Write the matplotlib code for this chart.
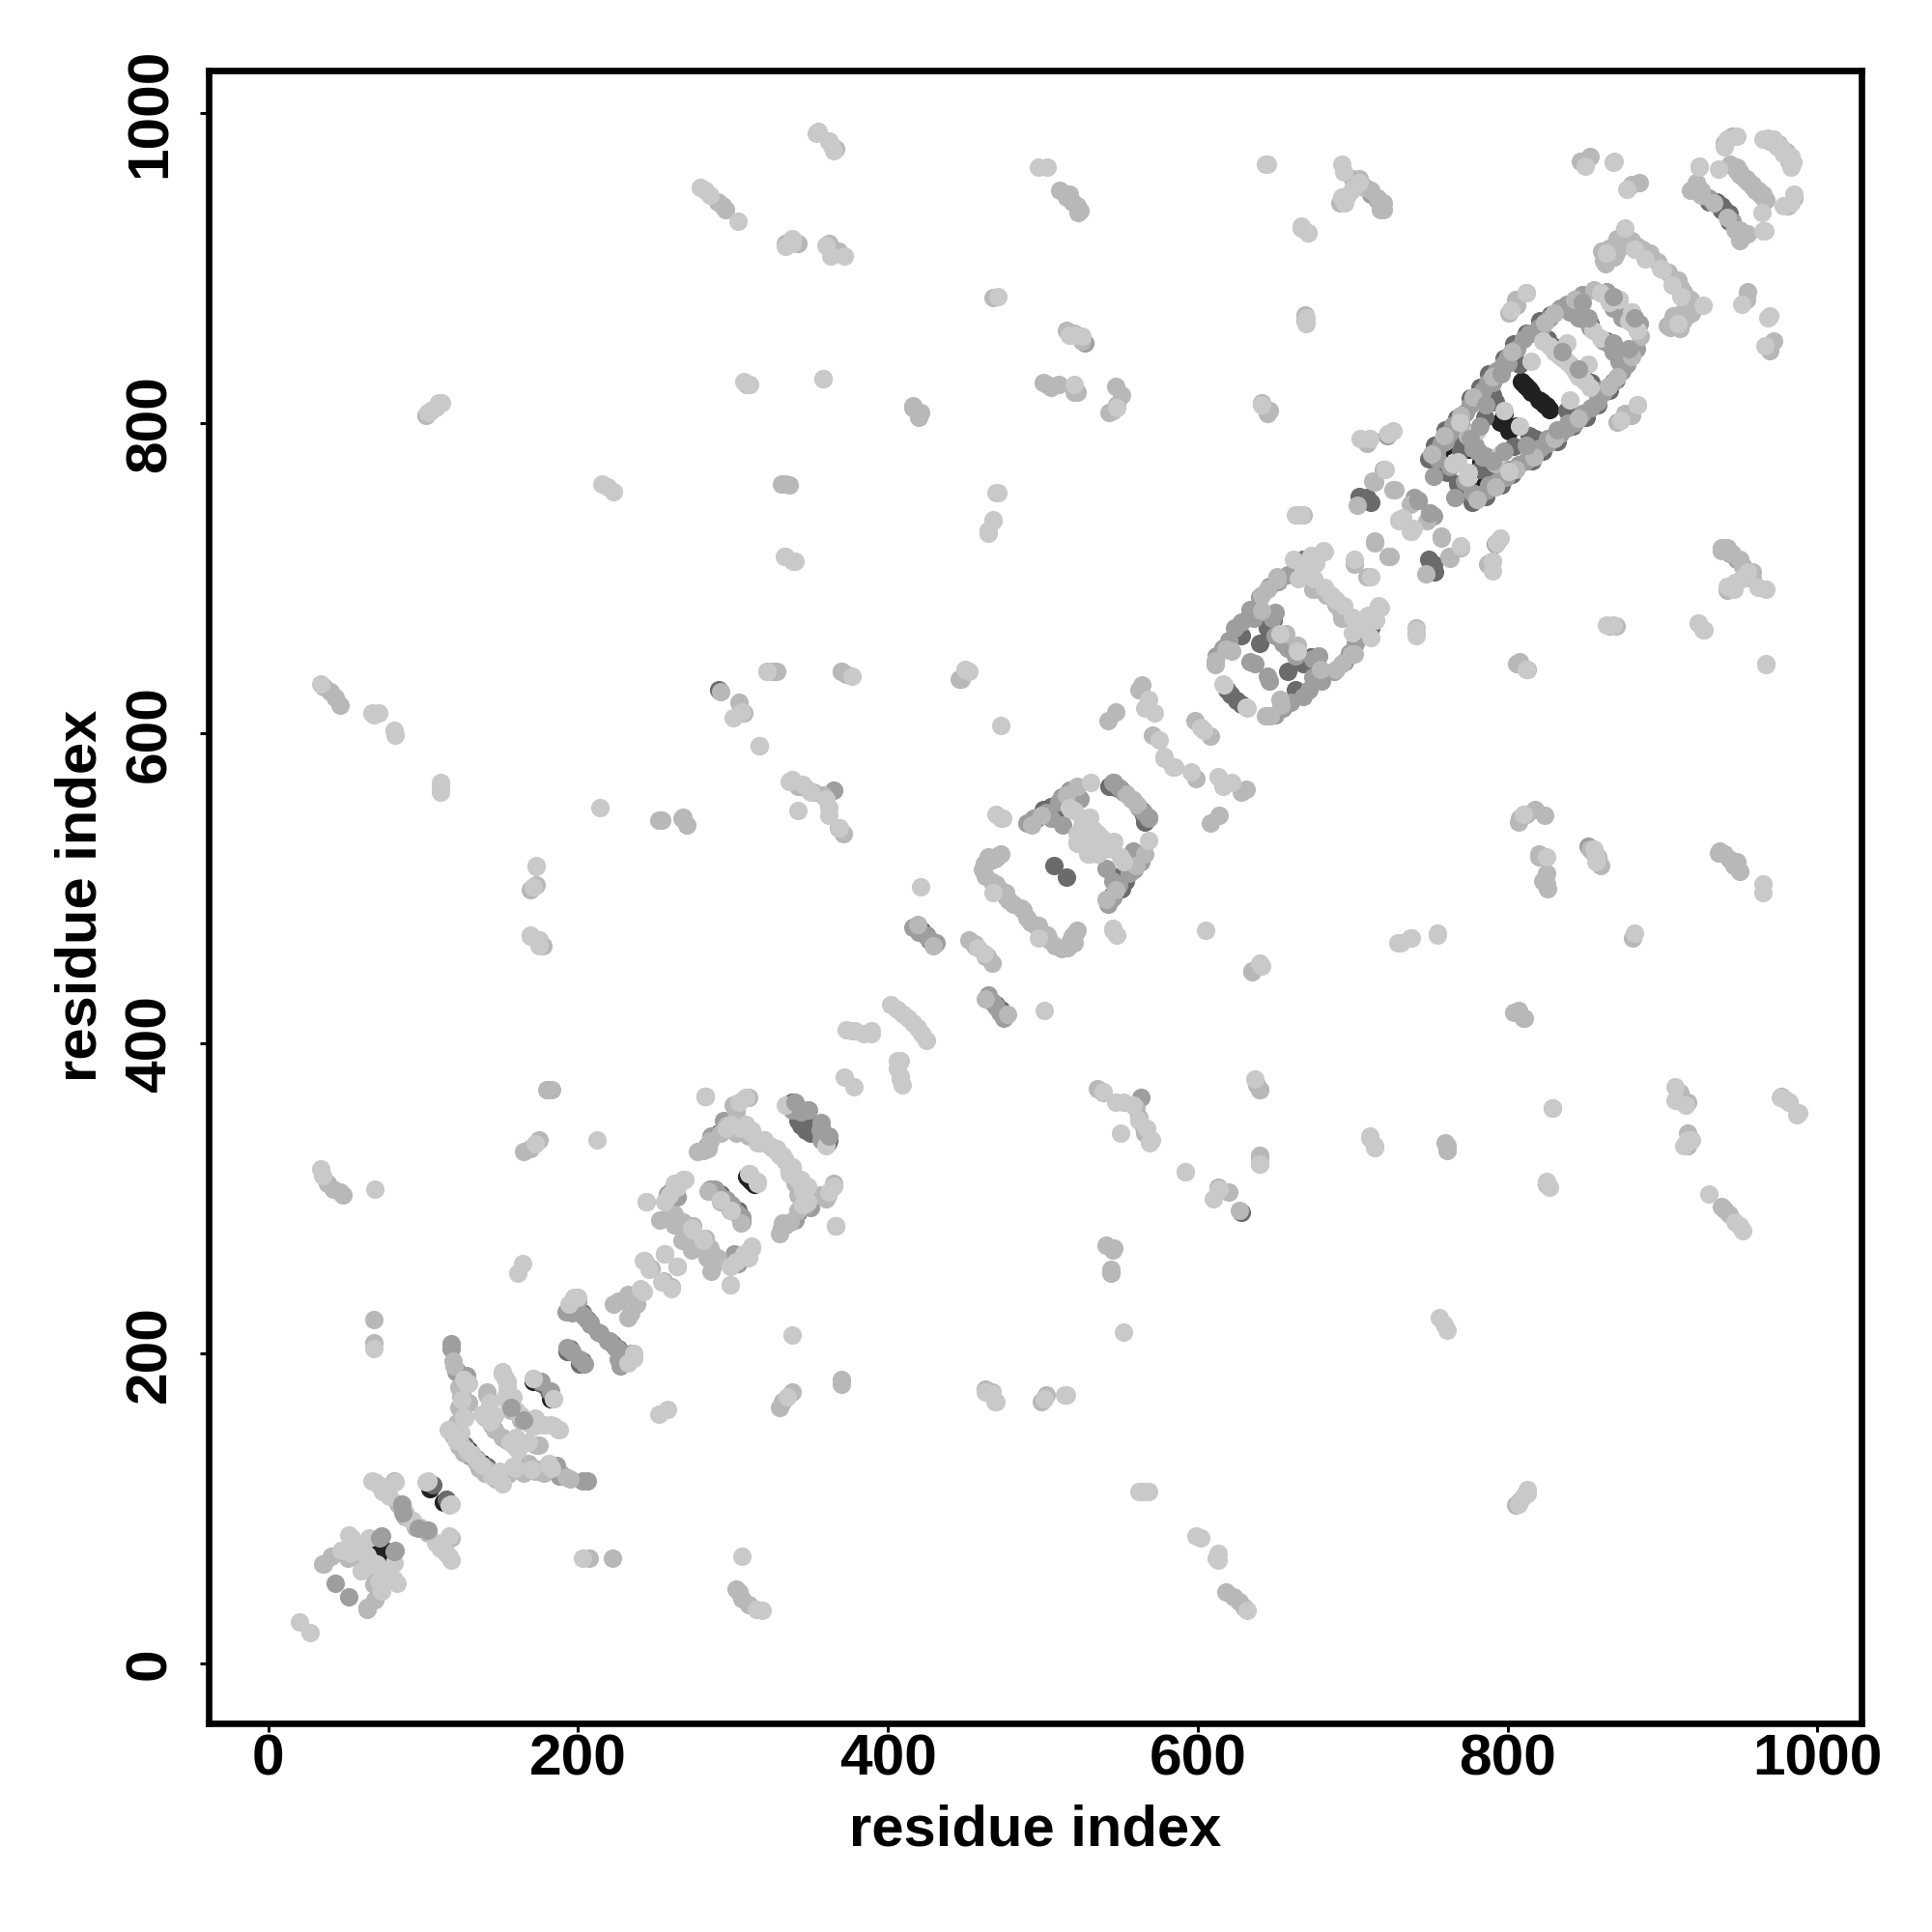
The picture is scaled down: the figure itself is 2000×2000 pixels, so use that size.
import numpy as np
import matplotlib
matplotlib.use('Agg')
import matplotlib.pyplot as plt

plt.rcParams['font.family'] = ['Liberation Sans', 'DejaVu Sans']

# Contacts as (i, j) with i < j, the map is symmetric
black = [(70,78),(76,72),(104,113),(124,143),(125,141),(139,127),(138,129),(171,182),
         (309,314),(311,312),(709,668),(773,786),(775,783),(801,795),(798,806),(809,827),
         (812,824),(815,820),(825,811),(822,814),(760,785),(756,777),(705,668),(120,147),
         (122,144),(135,131),(507,548),(545,567),(790,828),(762,795)]
dark = [(106,115),(124,186),(123,146),(127,141),(176,181),(195,203),(193,201),(291,342),
        (292,303),(302,292),(338,362),(342,350),(340,356),(344,347),(507,515),(508,551),
        (505,553),(543,566),(547,565),(550,564),(619,628),(621,625),(626,666),(628,663),
        (668,712),(673,649),(704,753),(752,709),(749,712),(826,854),(830,849),(850,867),
        (853,863),(790,818),(792,814),(765,790),(770,782),(935,943),(930,943),(938,938),
        (425,470),(427,467),(628,291),(668,705),(785,804),(804,843),(808,838),(864,853),
        (749,777),(753,786),(760,796),(767,803),(776,816),(782,823),(788,832),(798,842),
        (804,851),(812,858),(821,866),(828,870),(757,772),(761,768),(198,230),(203,226),
        (206,222),(336,361),(347,352),(352,346),(356,344),(496,545),(500,551),(510,552),
        (422,473),(638,675),(645,668),(640,658),(938,940),(134,132),(137,128)]
mid = [(43,52),(118,206),(118,203),(122,189),(128,186),
       (144,154),(182,176),(193,204),(196,201),(196,226),(204,224),(208,220),
       (214,213),(219,208),(225,203),(192,227),(200,234),(261,306),(258,303),(264,301),
       (302,291),(306,288),(296,299),(365,563),(348,357),(357,349),(286,340),
       (283,334),(562,552),(565,549),(513,541),(520,562),(524,558),(471,521),
       (634,676),(648,674),(650,678),(740,752),
       (723,793),(722,792),(527,852),(523,856),(948,712),(944,716),(945,930),(770,800),
       (760,788),(755,777),(778,784),(818,858),(822,862),(840,872),(846,868),
       (872,880),(868,874),(853,862),(800,839),(763,772),(752,766),
       (790,826),(420,472),(416,475),(431,465),(294,350),
       (754,782),(757,787),(762,793),(765,799),(770,801),(773,807),(776,812),(781,816),
       (784,821),(787,826),(793,834),(797,838),(800,843),(806,848),(810,854),(814,858),
       (820,862),(827,868),(834,874),(838,877),(848,883),(772,795),(779,786),
       (782,781),(784,778),(864,885),(860,884),(866,880),(870,877),(490,542),
       (494,545),(502,549),(505,545),(510,556),(512,559),(517,563),(519,557),(612,650),
       (616,655),(620,660),(624,668),(628,672),(634,680),(640,688),(646,695),(652,698),
       (658,702),(664,705),(670,707),(676,712),(636,674),(650,663),(655,658),(285,306),
       (290,303),(295,298),(338,357),(344,356),(360,338),(424,470),(426,468),(199,229),
       (121,188),(125,139),(130,134)]
soft = [(64,36),(68,222),(68,207),(102,805),(105,808),(43,623),(46,618),(40,627),(36,630),
        (38,310),(42,306),(46,304),(48,302),(252,544),(267,545),(270,541),(169,499),(173,502),
        (175,467),(177,463),(165,330),(169,332),(175,338),(180,370),(183,370),(290,943),
        (293,940),(295,938),(334,916),(342,916),(362,916),(368,911),(362,982),(366,977),
        (309,825),(331,761),(334,761),(336,760),(292,627),(304,620),(307,613),(328,640),
        (370,640),(371,535),(342,566),(346,565),(352,562),(358,560),(368,539),(511,950),
        (515,946),(519,943),(522,940),(524,937),(468,881),(503,825),(510,825),(522,820),
        (547,824),(551,818),(543,807),(416,810),(420,804),(447,635),(641,813),(646,808),
        (700,958),(708,952),(712,950),(716,945),(720,942),(718,938),(692,942),(847,969),
        (853,972),(880,954),(885,955),(940,981),(945,985),(969,982),(975,980),(980,975),
        (982,970),(944,967),(948,963),(953,958),(958,954),(965,948),(918,950),(925,947),
        (933,942),(950,925),(955,922),(940,718),(938,720),(952,708),(958,704),(866,669),
        (870,669),(806,645),(35,64),(41,69),(51,68),(58,68),(81,118),(84,103),(95,88),
        (120,192),(124,172),(126,160),(122,150),(129,168),(141,175),(151,146),(159,140),
        (173,141),(163,157),(170,154),(256,264),(232,238),(223,232),(234,226),(243,260),
        (247,255),(257,287),(263,286),(274,282),(267,273),(282,274),(274,268),(285,268),
        (287,257),(284,305),(292,298),(281,331),(282,366),(300,360),(302,356),(302,342),
        (333,325),(336,317),(340,310),(343,302),(347,296),(332,284),(366,282),(365,310),
        (361,302),(446,635),(419,477),(429,463),(452,467),(456,464),(463,456),(466,518),
        (461,512),(467,504),(473,498),(481,490),(493,541),(499,547),(515,560),(522,566),
        (554,561),(558,557),(564,631),(562,628),(547,614),(542,608),(571,599),(598,608),
        (611,647),(618,654),(622,653),(611,644),(641,679),(657,664),(651,699),(641,689),
        (674,693),(680,692),(689,683),(699,674),(709,701),(714,724),(723,714),(710,788),
        (720,770),(713,763),(727,757),(737,748),(757,726),(762,714),(747,703),(709,787),
        (751,780),(759,792),(770,805),(778,817),(790,830),(803,846),(824,865),(830,871),
        (843,880),(856,886),(774,792),(766,774),(884,812),(876,806),(801,871),(805,880),
        (903,863),(915,878),(907,869),(911,861),(919,871),(863,910),(870,916),(876,921),
        (884,914),(892,910),(897,904),(905,862),(916,870),(920,874),(701,651),(693,645),
        (741,665),(741,668),(546,268),(544,254),(829,358),(761,332),(638,373),(640,370),
        (640,326),(640,322),(808,545),(812,548),(820,520),(823,505),(826,500),(853,525),
        (858,520),(860,515),(807,421),(811,416),(936,523),(948,517),(119,195),(123,178),
        (125,175),(123,165),(125,163),(122,155),(121,146),(123,140),(126,136),(133,133),
        (136,129),(141,125),(147,119),(253,286),(262,283),(270,277),(280,270),(290,262),
        (277,330),(285,337),(292,342),(465,520),(462,516),(463,508),(470,503),(476,495),
        (478,492),(486,487),(469,519),(473,522),(472,499),(476,497),(946,965),(950,960),
        (955,956),(962,950),(866,913),(873,919),(880,918),(887,912),(910,870),(913,866)]
pale = [(20,27),(34,632),(34,319),(35,315),(67,613),(71,613),(82,599),(111,566),(111,562),
        (108,810),(112,813),(215,761),(219,759),(223,756),(214,552),(173,514),(169,469),
        (174,467),(69,306),(68,203),(172,335),(212,338),(161,252),(164,258),(279,952),
        (282,950),(285,947),(303,930),(338,919),(372,908),(354,987),(364,979),(307,827),
        (311,825),(358,829),(333,714),(339,711),(317,592),(322,640),(377,637),(336,569),
        (342,550),(362,552),(497,965),(503,965),(471,882),(517,857),(521,857),(525,856),
        (520,825),(548,810),(471,755),(468,738),(465,731),(452,640),(473,605),(644,967),
        (667,926),(671,923),(670,868),(670,864),(694,962),(704,955),(697,947),(700,951),
        (850,966),(868,968),(877,951),(924,966),(948,985),(983,965),(978,940),(983,942),
        (965,924),(964,936),(729,465),(737,468),(755,470),(946,693),(942,695),(967,693),
        (969,869),(967,645),(923,671),(927,667),(812,641),(592,317),(614,306),(610,300),
        (976,365),(982,362),(988,355),(916,338),(914,334),(908,363),(915,360),(711,340),
        (714,334),(602,81),(612,68),(564,111),(568,111),
        (463,175),(470,169),(501,171),(515,173),(807,103),(813,110),(52,83),(54,81),
        (65,81),(63,70),(59,76),(47,73),(70,64),(53,71),(60,60),(67,118),(71,115),(74,111),
        (78,108),(88,98),(92,93),(82,117),(69,117),(103,118),(102,117),(129,181),(126,183),
        (125,170),(127,158),(124,149),(128,138),(135,131),(144,121),(151,116),(151,187),
        (153,184),(154,170),(182,154),(188,151),(138,161),(159,126),(128,181),(171,184),
        (184,171),(197,236),(200,236),(240,242),(246,254),(242,260),(256,264),(264,256),
        (244,298),(268,312),(262,310),(273,281),(280,274),(298,256),(302,259),(307,264),
        (312,269),(298,244),(292,299),(282,366),(308,365),(304,362),(296,345),(316,336),
        (324,334),(310,316),(316,311),(334,360),(373,409),(379,408),(384,406),(389,406),
        (372,378),(402,425),(406,422),(410,419),(413,416),(408,377),(408,389),(421,501),
        (450,641),(458,462),(474,545),(470,548),(522,530),(530,546),(529,522),(531,568),
        (525,540),(535,535),(572,613),(566,616),(568,622),(575,596),(578,585),(584,578),
        (602,604),(617,631),(616,632),(653,664),(673,715),(681,718),(676,710),(665,700),
        (712,701),(730,737),(738,730),(732,739),(770,721),(793,723),(790,711),(801,769),
        (765,774),(775,768),(795,780),(836,842),(846,832),(830,846),
        (838,852),(815,840),(860,855),(878,866),(865,880),(872,880),(860,884),(926,876),
        (900,899),(906,889),(912,882),(864,910),(663,741),(667,741),(705,790),(711,790),
        (726,795),(545,473),(497,468),(539,369),(547,362),(558,360),(562,350),(567,345),
        (570,338),(884,812),(802,873),(798,808),(833,844),
        (840,838),(843,835),(827,850),(823,853),(525,535),(528,540),(532,538),(522,535),
        (527,528),(533,530),(538,533),(517,552),(520,550),(525,545),(662,712),(668,706),
        (675,700),(682,694),(686,689),(308,348),(312,344),(320,338),(328,332),(330,328),
        (338,320),(342,312),(345,305),(348,298),(154,178),(158,172),(160,163),(168,155),
        (172,153),(143,168),(146,160),(156,143),(972,983),(976,978),
        (978,974),(981,972),(984,968),(194,232),(199,236),(682,717)]
# darker contacts that sit on top of the pale ones
over = [(72,81),(82,73),(87,97),(103,86),(157,165),(362,340),(545,568),(546,568),(634,646),
        (637,645),(742,750),(750,742),(782,798),(786,812),(796,832),(776,790),(835,846),
        (852,868),(848,878),(868,882)]

levels = [(black, '0.13'), (dark, '0.42'), (mid, '0.62'), (soft, '0.72'), (pale, '0.79'), (over, '0.62')]
xticks = [0, 200, 400, 600, 800, 1000]

fig = plt.figure(figsize=(20, 20), dpi=100)
ax = fig.add_axes([216/2000, 1 - 1784/2000, (1927 - 216)/2000, (1784 - 73)/2000])

for contacts, gray in levels:
    c = np.array(contacts)
    ax.scatter(np.r_[c[:, 0], c[:, 1]], np.r_[c[:, 1], c[:, 0]], s=190, color=gray,
               linewidths=0, zorder=2)

ax.set_xlim(-38.5, 1028.5)
ax.set_ylim(-38.6, 1027.5)
ax.set_xticks(xticks)
ax.set_yticks(xticks)
ax.tick_params(length=6.5, width=2.2, labelsize=43.5, pad=1)
ax.tick_params(axis='y', labelrotation=90, pad=17)
for t in ax.get_xticklabels() + ax.get_yticklabels():
    t.set_fontweight('bold')
for t in ax.get_yticklabels():
    t.set_va('center')
for s in ax.spines.values():
    s.set_linewidth(4.8)

ax.set_xlabel('residue index', fontsize=43, fontweight='bold')
ax.set_ylabel('residue index', fontsize=43, fontweight='bold')
ax.xaxis.set_label_coords((1072 - 216)/1711, -(1895 - 1784)/1711, transform=ax.transAxes)
ax.yaxis.set_label_coords(-(216 - 84)/1711, (1784 - 927)/1711, transform=ax.transAxes)
ax.xaxis.label.set_va('center')
ax.yaxis.label.set_va('center')

fig.savefig('out.png', dpi=100)
